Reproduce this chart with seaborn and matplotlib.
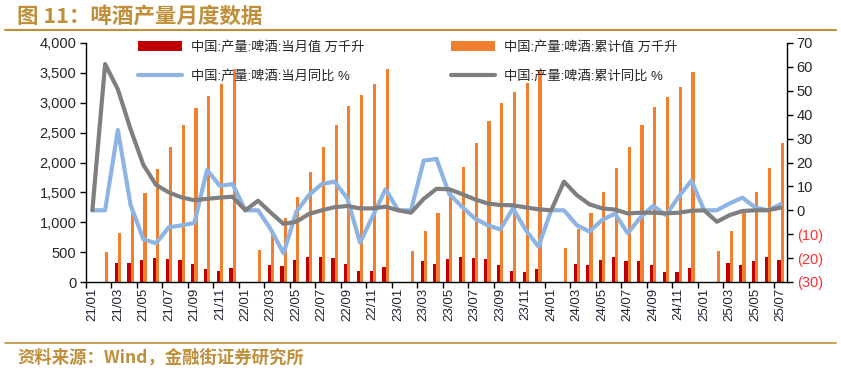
import numpy as np
import pandas as pd
import matplotlib
matplotlib.use("Agg")
import matplotlib.pyplot as plt
from matplotlib.lines import Line2D
import seaborn as sns

# month labels 21/01 .. 25/07
months = [f"{y:02d}/{m:02d}" for y in range(21, 26) for m in range(1, 13)][:55]

# 当月值 (万千升); Jan/Feb not published separately
monthly = [np.nan, np.nan, 324, 324, 363, 396, 385, 363, 301, 218, 190, 234,
           np.nan, np.nan, 285, 262, 363, 424, 424, 396, 307, 190, 178, 251,
           np.nan, np.nan, 346, 307, 380, 424, 407, 380, 285, 190, 162, 213,
           np.nan, np.nan, 307, 280, 363, 413, 357, 357, 290, 173, 162, 234,
           np.nan, np.nan, 313, 290, 357, 413, 368]

# 累计值 (万千升)
cumulative = [np.nan, 507, 826, 1150, 1490, 1886, 2265, 2623, 2918, 3119, 3320, 3560,
              np.nan, 536, 820, 1077, 1428, 1842, 2265, 2634, 2946, 3125, 3308, 3560,
              np.nan, 524, 859, 1150, 1512, 1920, 2321, 2700, 2991, 3175, 3336, 3549,
              np.nan, 564, 882, 1150, 1501, 1914, 2265, 2634, 2924, 3102, 3270, 3521,
              np.nan, 524, 859, 1160, 1501, 1903, 2321]

# 当月同比 (%)
monthly_yoy = [0, 0, 33.6, 2.2, -12.1, -13.8, -7.1, -6.3, -5.3, 16.9, 10.2, 11.0,
               0, 0, -8.0, -18.0, -0.6, 6.4, 11.0, 12.0, 5.0, -13.5, -2.4, 8.8,
               0, 0, 20.8, 21.5, 6.8, 1.5, -3.4, -6.2, -8.0, 0.8, -8.2, -15.2,
               0, 0, -6.2, -8.9, -4.0, -1.4, -9.6, -3.0, 1.9, -2.0, 5.7, 12.4,
               0, 0, 2.9, 5.3, 1.2, 0, 2.5]

# 累计同比 (%)
cum_yoy = [0, 61.2, 50.6, 33.9, 19.0, 10.6, 7.5, 5.4, 4.2, 4.8, 5.3, 5.7,
           0, 4.0, -1.0, -5.7, -4.8, -1.5, 0, 1.3, 1.8, 0.8, 0.8, 1.5,
           0, -1.0, 4.8, 9.0, 8.8, 6.8, 4.6, 2.9, 2.2, 2.1, 1.2, 0.4,
           0, 12.0, 6.4, 2.5, 0.8, 0.3, -1.3, -1.0, -1.0, -1.3, -1.0, -0.2,
           0, -4.8, -2.0, -0.3, 0, 0, 1.1]

lab_m = "中国:产量:啤酒:当月值 万千升"
lab_c = "中国:产量:啤酒:累计值 万千升"
lab_my = "中国:产量:啤酒:当月同比 %"
lab_cy = "中国:产量:啤酒:累计同比 %"

gold = "#BF8F3A"
red = "#C00000"
orange = "#F08030"
blue = "#8DB4E2"
grey = "#7F7F7F"

sns.set_theme(style="ticks")
plt.rcParams["font.family"] = ["Liberation Sans", "Noto Sans CJK SC", "DejaVu Sans"]

bars = pd.DataFrame({
    "month": months * 2,
    "value": monthly + cumulative,
    "series": [lab_m] * len(months) + [lab_c] * len(months),
})
x = np.arange(len(months))

fig = plt.figure(figsize=(8.41, 3.74), dpi=100)
ax = fig.add_axes([86 / 841, 92 / 374, 701 / 841, 239 / 374])

sns.barplot(data=bars, x="month", y="value", hue="series", order=months,
            hue_order=[lab_m, lab_c], palette=[red, orange], width=0.5,
            errorbar=None, saturation=1, linewidth=0, ax=ax)
handles, labels = ax.get_legend_handles_labels()
ax.get_legend().remove()

ax2 = ax.twinx()
sns.lineplot(x=x, y=monthly_yoy, color=blue, linewidth=3, label=lab_my, ax=ax2)
sns.lineplot(x=x, y=cum_yoy, color=grey, linewidth=3, label=lab_cy, ax=ax2)
h2, l2 = ax2.get_legend_handles_labels()
ax2.get_legend().remove()

ax.set_xlim(-0.5, len(months) - 0.5)
ax.set_ylim(0, 4000)
ax.set_yticks(range(0, 4001, 500))
ax.set_yticklabels([f"{v:,}" for v in range(0, 4001, 500)], fontsize=10.5)
ax.set_xticks(x[::2])
ax.set_xticklabels(months[::2], rotation=90, fontsize=9.5, color="#222233")
ax.set_xticks(np.arange(-0.5, len(months), 2), minor=True)
ax.tick_params(axis="x", which="major", length=0, pad=4)
ax.tick_params(axis="x", which="minor", length=4, width=1, color="black")
ax.tick_params(axis="y", length=4, width=1, color="black", pad=3)
ax.set_xlabel("")
ax.set_ylabel("")

ax2.set_ylim(-30, 70)
yt = list(range(-30, 71, 10))
ax2.set_yticks(yt)
ax2.set_yticklabels([f"({-v})" if v < 0 else str(v) for v in yt], fontsize=10.5)
for t, v in zip(ax2.get_yticklabels(), yt):
    if v < 0:
        t.set_color("#FF3030")
ax2.tick_params(axis="y", length=4, width=1, color="black", pad=3)
ax2.set_ylabel("")

for a in (ax, ax2):
    a.spines["top"].set_visible(False)
    for s in ("left", "right", "bottom"):
        a.spines[s].set_color("black")
        a.spines[s].set_linewidth(1)
ax.spines["right"].set_visible(False)
ax2.spines["left"].set_visible(False)
ax2.spines["bottom"].set_visible(False)

ax2.legend([handles[0], h2[0], handles[1], h2[1]],
           [labels[0], l2[0], labels[1], l2[1]],
           ncol=2, loc="upper left", bbox_to_anchor=(138 / 841, 1 - 41 / 374),
           bbox_transform=fig.transFigure, frameon=False, borderpad=0,
           borderaxespad=0, fontsize=9.5, handlelength=3.3, handleheight=0.75,
           handletextpad=0.7, labelspacing=1.25, columnspacing=6.6)

fig.text(17 / 841, 1 - 16 / 374, "图 11：啤酒产量月度数据", color=gold,
         fontsize=15.5, fontweight="bold", va="center", ha="left",
         family=["Noto Sans CJK SC", "DejaVu Sans"])
fig.add_artist(Line2D([5 / 841, 836 / 841], [1 - 30 / 374] * 2, color=gold, lw=1.5))
fig.add_artist(Line2D([5 / 841, 836 / 841], [1 - 343 / 374] * 2, color=gold, lw=1.2))
fig.text(17 / 841, 1 - 358 / 374, "资料来源：Wind，金融街证券研究所", color=gold,
         fontsize=12.5, fontweight="bold", va="center", ha="left",
         family=["Noto Sans CJK SC", "DejaVu Sans"])

fig.savefig("out.png", dpi=100)
